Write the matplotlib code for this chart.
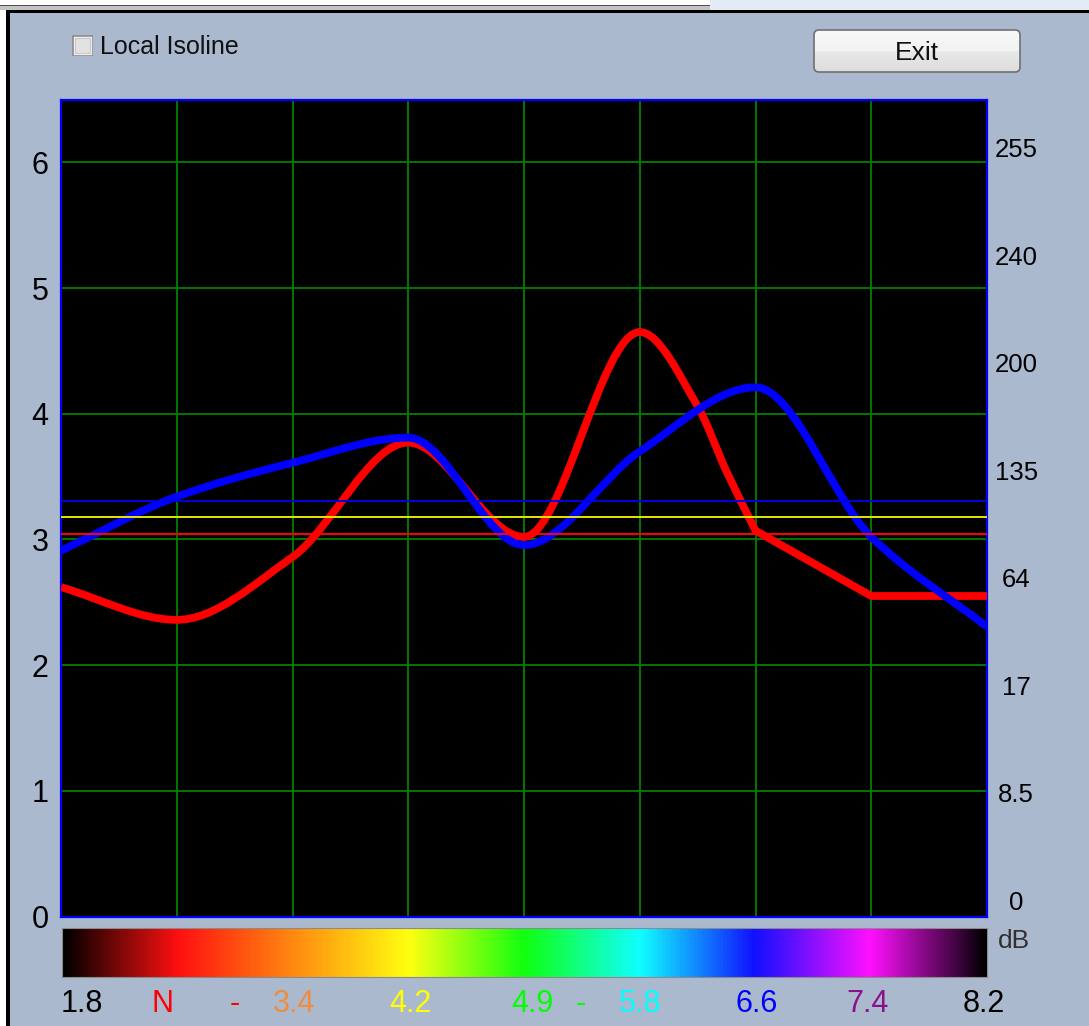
import numpy as np
import matplotlib
matplotlib.use("Agg")
import matplotlib.pyplot as plt
from matplotlib.path import Path
from matplotlib.patches import PathPatch, Rectangle, FancyBboxPatch
from matplotlib.colors import LinearSegmentedColormap

plt.rcParams['font.family'] = ['Liberation Sans', 'DejaVu Sans']

# ---------------- data ----------------
grid_x = [0, 1, 2, 3, 4, 5, 6, 7, 8]
red_x = [0, 1, 2, 3, 4, 5, 5.5, 5.75, 6, 7, 8]
red_values = [2.62, 2.36, 2.86, 3.77, 3.02, 4.65, 4.06, 3.54, 3.07, 2.55, 2.55]
blue_x = [0, 1, 2, 3, 4, 5, 6, 7, 8]
blue_values = [2.91, 3.34, 3.61, 3.81, 2.955, 3.70, 4.21, 3.02, 2.305]

hline_values = [3.305, 3.18, 3.04]
hline_colors = ['#0000E0', '#E6E600', '#FF0000']

left_ticks = [0, 1, 2, 3, 4, 5, 6]
right_tick_pos = [0.13, 0.985, 1.84, 2.695, 3.55, 4.405, 5.26, 6.115]
right_tick_labels = ['0', '8.5', '17', '64', '135', '200', '240', '255']

scale_labels = ['1.8', 'N', '-', '3.4', '4.2', '4.9', '-', '5.8', '6.6', '7.4', '8.2']
scale_label_colors = ['#000000', '#FF0000', '#FF0000', '#F08C3C', '#FFFF00',
                      '#00FF00', '#00FF00', '#00FFFF', '#0000FF', '#8B108B', '#000000']
scale_label_pos = [0.17, 0.87, 1.49, 2.01, 3.01, 4.07, 4.49, 5.0, 6.01, 6.97, 7.97]
scale_colors = ['#000000', '#FF1010', '#FF8A10', '#FFFF10', '#10FF10',
                '#10FFFF', '#1010FF', '#FF10FF', '#000000']

W, H = 1089, 1026
BG = '#AAB9CE'
CORNER_RATIO = 3.0


def fx(x):
    return x / W


def fy(y):
    return 1 - y / H


def tangents(x, y):
    """Monotone (PCHIP-like) tangents; one-sided at sharp slope changes / flat neighbours."""
    x = np.asarray(x, float)
    y = np.asarray(y, float)
    h = np.diff(x)
    d = np.diff(y) / h
    n = len(y)
    m_in = np.zeros(n)   # tangent used by segment ending at k
    m_out = np.zeros(n)  # tangent used by segment starting at k
    m_out[0] = d[0]
    m_in[-1] = d[-1]
    for k in range(1, n - 1):
        a, b = d[k - 1], d[k]
        if a * b < 0:
            m_in[k] = m_out[k] = 0.0
        elif a == 0 or b == 0 or max(abs(a), abs(b)) / min(abs(a), abs(b)) > CORNER_RATIO:
            m_in[k], m_out[k] = a, b
        else:
            w1 = 2 * h[k] + h[k - 1]
            w2 = h[k] + 2 * h[k - 1]
            m_in[k] = m_out[k] = (w1 + w2) / (w1 / a + w2 / b)
    return m_in, m_out


def smooth_path(x, y):
    m_in, m_out = tangents(x, y)
    verts = [(x[0], y[0])]
    codes = [Path.MOVETO]
    for i in range(len(x) - 1):
        h = x[i + 1] - x[i]
        verts += [(x[i] + h / 3, y[i] + m_out[i] * h / 3),
                  (x[i + 1] - h / 3, y[i + 1] - m_in[i + 1] * h / 3),
                  (x[i + 1], y[i + 1])]
        codes += [Path.CURVE4] * 3
    return Path(verts, codes)


fig = plt.figure(figsize=(W / 100, H / 100), dpi=100, facecolor=BG)

# window frame decorations
fig.add_artist(Rectangle((0, fy(10)), 1, 10 / H, transform=fig.transFigure,
                         facecolor='white', edgecolor='none'))
fig.add_artist(Rectangle((0, fy(10)), fx(710), 4 / H, transform=fig.transFigure,
                         facecolor='#C4C4C4', edgecolor='none'))
fig.add_artist(Rectangle((0, fy(6)), fx(710), 1.2 / H, transform=fig.transFigure,
                         facecolor='#505050', edgecolor='none'))
fig.add_artist(Rectangle((fx(710), fy(10)), 1 - fx(710), 10 / H, transform=fig.transFigure,
                         facecolor='#E3EBF7', edgecolor='none'))
fig.add_artist(Rectangle((fx(6), fy(12.5)), 1, 2.5 / H, transform=fig.transFigure,
                         facecolor='#000000', edgecolor='none'))
fig.add_artist(Rectangle((0, 0), fx(6), fy(10), transform=fig.transFigure,
                         facecolor='white', edgecolor='none'))
fig.add_artist(Rectangle((fx(6), 0), 4 / W, fy(10), transform=fig.transFigure,
                         facecolor='#000000', edgecolor='none'))

# ---------------- main axes ----------------
ax = fig.add_axes([fx(61), fy(916.5), (987 - 61) / W, (916.5 - 99.5) / H])
ax.set_facecolor('black')
ax.set_xlim(0, 8)
ax.set_ylim(0, 6.5)
ax.set_xticks(grid_x)
ax.set_xticklabels([])
ax.set_yticks(left_ticks)
ax.set_yticklabels([str(v) for v in left_ticks])
ax.tick_params(axis='both', length=0)
ax.tick_params(axis='y', labelsize=22, pad=9, labelcolor='black')
ax.grid(True, color='#008000', linewidth=1.3, zorder=1)
ax.set_axisbelow(True)
for s in ax.spines.values():
    s.set_color('#0000FF')
    s.set_linewidth(1.6)

ax.add_patch(PathPatch(smooth_path(red_x, red_values), facecolor='none',
                       edgecolor='#FF0000', linewidth=5.6, zorder=3,
                       capstyle='butt', joinstyle='round'))
ax.add_patch(PathPatch(smooth_path(blue_x, blue_values), facecolor='none',
                       edgecolor='#0000FF', linewidth=5.6, zorder=4,
                       capstyle='butt', joinstyle='round'))
for v, c in zip(hline_values, hline_colors):
    ax.axhline(v, color=c, linewidth=1.4, zorder=5)

ax2 = ax.twinx()
ax2.set_ylim(0, 6.5)
ax2.set_yticks(right_tick_pos)
ax2.set_yticklabels(right_tick_labels)
ax2.tick_params(axis='y', length=0, labelsize=18.5, pad=21)
for lab in ax2.get_yticklabels():
    lab.set_horizontalalignment('center')
for s in ax2.spines.values():
    s.set_visible(False)

# ---------------- colour scale ----------------
cmap = LinearSegmentedColormap.from_list('scale', list(zip(np.linspace(0, 1, len(scale_colors)), scale_colors)))
cax = fig.add_axes([fx(62), fy(977), (987 - 62) / W, (977 - 928) / H])
cax.imshow(np.linspace(0, 1, 512)[None, :], cmap=cmap, aspect='auto',
           extent=[0, 8, 0, 1])
cax.set_xlim(0, 8)
cax.set_ylim(0, 1)
cax.set_xticks([])
cax.set_yticks([])
for s in cax.spines.values():
    s.set_color('#8A8A8A')
    s.set_linewidth(0.8)
for lab, col, p in zip(scale_labels, scale_label_colors, scale_label_pos):
    cax.text(p, -0.56, lab, color=col, fontsize=22, ha='center', va='center',
             clip_on=False)
fig.text(fx(1014), fy(941), 'dB', fontsize=19, color='#303030', ha='center', va='center')

# ---------------- checkbox + label ----------------
cb = fig.add_axes([fx(72), fy(56), 21 / W, 21 / H])
cb.set_xlim(0, 21)
cb.set_ylim(0, 21)
cb.axis('off')
cb.add_patch(Rectangle((0.5, 0.5), 20, 20, facecolor='#F2F2F2', edgecolor='#8C8C8C', linewidth=1.2))
cb.add_patch(Rectangle((3, 3), 15, 15, facecolor='#E2E2E2', edgecolor='#C8C8C8', linewidth=0.8))
fig.text(fx(100), fy(47), 'Local Isoline', fontsize=18, color='#101010', ha='left', va='center')

# ---------------- Exit button ----------------
bw, bh = 208, 44
bax = fig.add_axes([fx(813), fy(73), bw / W, bh / H])
bax.set_xlim(0, bw)
bax.set_ylim(0, bh)
bax.axis('off')
shape = FancyBboxPatch((1, 1), bw - 2, bh - 2, boxstyle='round,pad=0,rounding_size=5',
                       facecolor='none', edgecolor='#707070', linewidth=1.2, zorder=3)
grad = np.concatenate([np.linspace(0.86, 0.91, 22), np.linspace(0.95, 0.97, 22)])[:, None]
img = bax.imshow(grad, cmap='gray', vmin=0, vmax=1, aspect='auto', extent=[0, bw, 0, bh],
                 origin='lower', zorder=1)
bax.add_patch(shape)
img.set_clip_path(shape)
bax.text(bw / 2, bh / 2 - 2.5, 'Exit', fontsize=19, color='#101010', ha='center', va='center', zorder=4)

fig.savefig('out.png', dpi=100, facecolor=BG)
